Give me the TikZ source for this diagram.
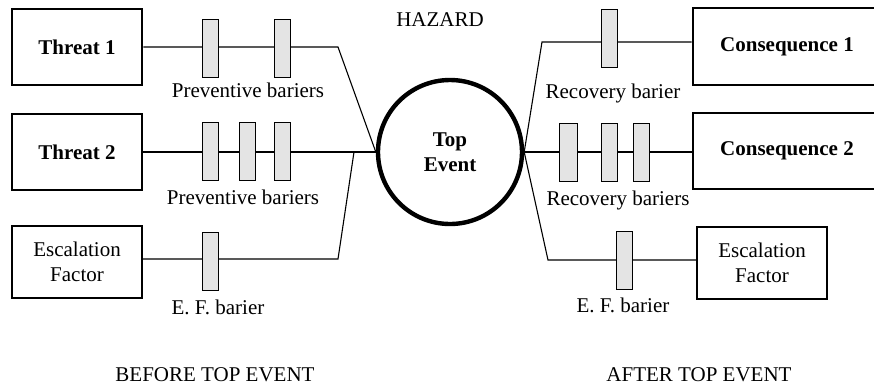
\documentclass[tikz,border=0pt]{standalone}
\usepackage{fontspec}
\setmainfont{Liberation Serif}
\definecolor{barrierGray}{HTML}{E4E4E4}
\usepackage{tikz}
\usetikzlibrary{positioning, calc}
\tikzset{
  causeBox/.style={draw, line width=1.3pt, minimum width=65pt, minimum height=38pt,
                   inner sep=2pt, align=center, font=\fontsize{10.5}{12.5}\selectfont},
  escBox/.style={causeBox, line width=1.1pt, minimum height=36pt},
  barrierBar/.style={draw, line width=0.5pt, fill=barrierGray, minimum width=8pt,
                     minimum height=29pt, inner sep=0pt},
  barrierLabel/.style={font=\fontsize{10.5}{12}\selectfont, inner sep=1pt},
  linkLine/.style={line width=0.55pt}
}
\begin{document}
\begin{tikzpicture}[x=0.5pt, y=-0.5pt]
          \clip (0,0) rectangle (874,387);
          % main nodes
          \node[causeBox] (threatA) at (77,47) {\textbf{Threat 1}};
          \node[causeBox] (threatB) at (77,152) {\textbf{Threat 2}};
          \node[escBox] (escLeft) at (77,262) {Escalation\\Factor};
          \node[draw, circle, line width=2.2pt, minimum size=72pt, align=center,
                font=\fontsize{10.5}{12.5}\selectfont] (topEvent) at (450,152) {\textbf{Top}\\\textbf{Event}};
          \node[causeBox, minimum width=94pt, minimum height=38.5pt] (consA) at (787,46.5) {\textbf{Consequence 1}};
          \node[causeBox, minimum width=94pt] (consB) at (787,151) {\textbf{Consequence 2}};
          \node[escBox] (escRight) at (762,263) {Escalation\\Factor};
          % bends
          \coordinate (bendA) at (338,47);
          \coordinate (bendE) at (338,259);
          \coordinate (joinE) at (354,152);
          \coordinate (bendR) at (542,42);
          \coordinate (bendF) at (548,260);
          % connectors
          \draw[linkLine] (threatA.east |- bendA) -- (bendA) -- (topEvent.west);
          \draw[linkLine] (threatB.east |- joinE) -- (topEvent.west);
          \draw[linkLine] (escLeft.east |- bendE) -- (bendE) -- (joinE);
          \draw[linkLine] (topEvent.east) -- (bendR) -- (consA.west |- bendR);
          \draw[linkLine] (topEvent.east) -- (consB.west |- topEvent.east);
          \draw[linkLine] (topEvent.east) -- (bendF) -- (escRight.west |- bendF);
          % barriers
          \node[barrierBar] (prevA1) at (210,48) {};
          \node[barrierBar] (prevA2) at (282,48) {};
          \node[barrierBar] (prevB1) at (210,151.5) {};
          \node[barrierBar] (prevB2) at (247.5,151.5) {};
          \node[barrierBar] (prevB3) at (282,151.5) {};
          \node[barrierBar] (efLeft) at (210,261.5) {};
          \node[barrierBar] (recA1) at (609,38) {};
          \node[barrierBar, minimum width=9pt] (recB1) at (568,152) {};
          \node[barrierBar] (recB2) at (609,152) {};
          \node[barrierBar] (recB3) at (641,152) {};
          \node[barrierBar] (efRight) at (624,260.5) {};
          % labels
          \node[barrierLabel] (prevLabA) at (248,90) {Preventive bariers};
          \node[barrierLabel] (prevLabB) at (243,197) {Preventive bariers};
          \node[barrierLabel] (efLabL) at (218,307) {E. F. barier};
          \node[barrierLabel] (recLabA) at (613,93) {Recovery barier};
          \node[barrierLabel] (recLabB) at (618,200) {Recovery bariers};
          \node[barrierLabel] (efLabR) at (623,305) {E. F. barier};
          \node[barrierLabel] (hazard) at (440,20) {HAZARD};
          \node[barrierLabel] (before) at (215,375) {BEFORE TOP EVENT};
          \node[barrierLabel] (after) at (699,375) {AFTER TOP EVENT};
        \end{tikzpicture}
\end{document}
